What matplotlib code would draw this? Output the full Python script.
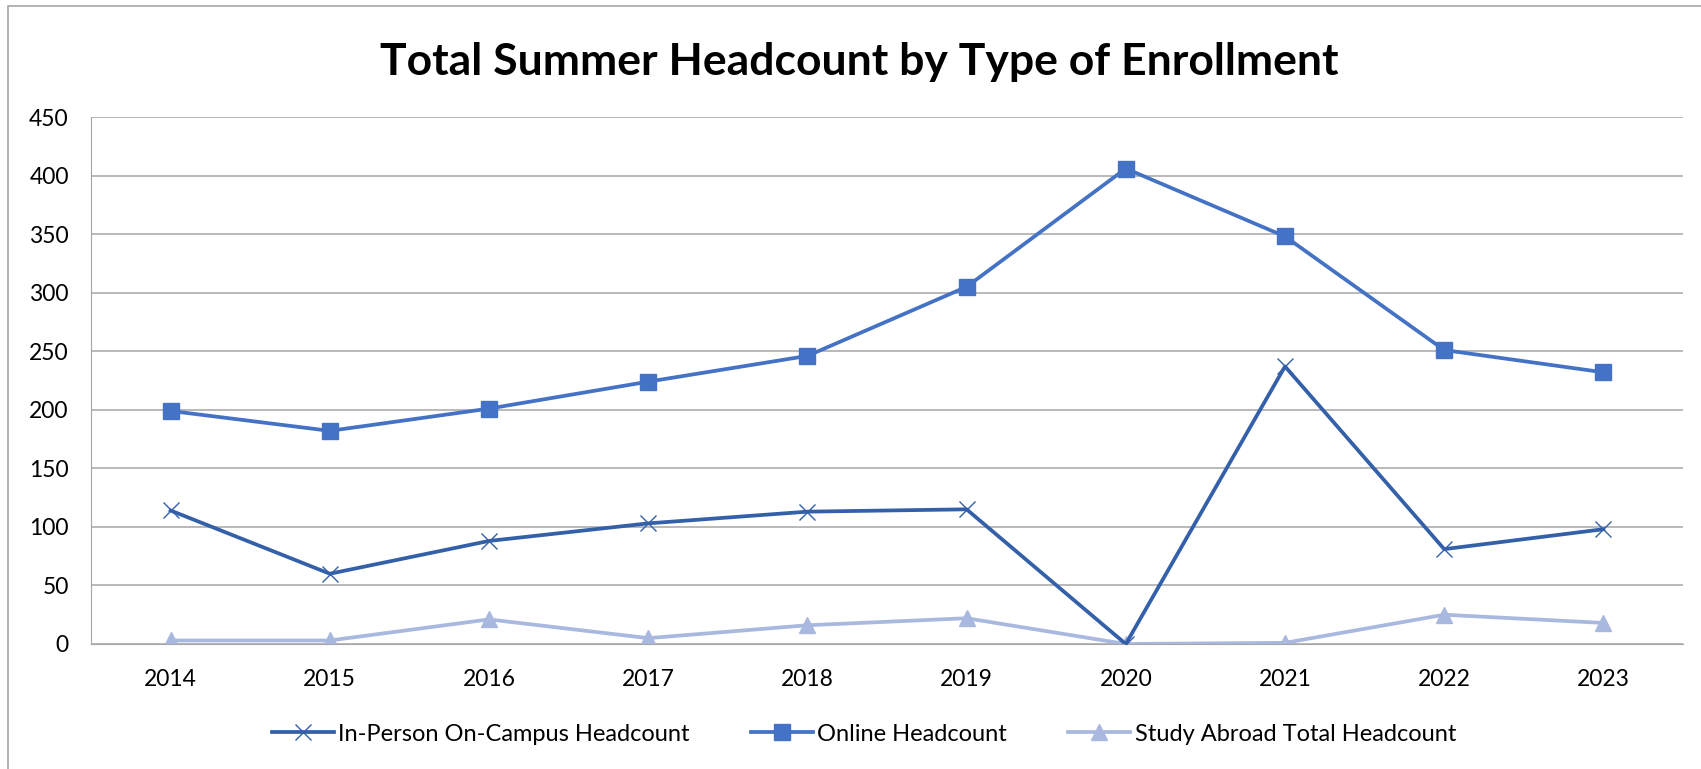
import matplotlib
matplotlib.use("Agg")
import matplotlib.pyplot as plt
from matplotlib.lines import Line2D

plt.rcParams['font.family'] = ['Lato', 'DejaVu Sans']

years = ['2014', '2015', '2016', '2017', '2018', '2019', '2020', '2021', '2022', '2023']
in_person = [114, 60, 88, 103, 113, 115, 0, 237, 81, 98]
online = [199, 182, 201, 224, 246, 305, 406, 348, 251, 232]
study_abroad = [3, 3, 21, 5, 16, 22, 0, 1, 25, 18]
y_ticks = [0, 50, 100, 150, 200, 250, 300, 350, 400, 450]

fig = plt.figure(figsize=(17.01, 7.69), dpi=100)
ax = fig.add_axes([91 / 1701, 1 - 644 / 769, (1683 - 91) / 1701, (644 - 117) / 769])

x = range(len(years))
ax.plot(x, in_person, color='#3360A8', lw=2.7, marker='x', ms=11, mew=1.0,
        label='In-Person On-Campus Headcount', zorder=3)
ax.plot(x, online, color='#4472C4', lw=2.7, marker='s', ms=11,
        label='Online Headcount', zorder=4)
ax.plot(x, study_abroad, color='#A9B8DE', lw=2.7, marker='^', ms=12,
        label='Study Abroad Total Headcount', zorder=2)

ax.set_xlim(-0.5, len(years) - 0.5)
ax.set_ylim(0, 450)
ax.set_xticks(list(x))
ax.set_xticklabels(years)
ax.set_yticks(y_ticks)
ax.yaxis.grid(True, color='#A6A6A6', lw=1.1)
ax.set_axisbelow(True)
for s in ['top', 'right']:
    ax.spines[s].set_visible(False)
ax.spines['left'].set_color('#A6A6A6')
ax.spines['bottom'].set_color('#A6A6A6')
ax.tick_params(length=0, labelsize=16.5, pad=18)
ax.tick_params(axis='y', pad=16)

fig.text(0.505, 0.92, 'Total Summer Headcount by Type of Enrollment',
         ha='center', va='center', fontsize=32, fontweight='bold')

fig.legend(loc='center', bbox_to_anchor=(0.508, 0.0455), ncol=3, frameon=False,
           fontsize=17, columnspacing=2.6, handlelength=2.6, handletextpad=0.2)

# chart border (partially cut off in the original)
fig.add_artist(Line2D([8 / 1701, 8 / 1701, 1.0], [0.0, 1 - 6 / 769, 1 - 6 / 769],
                      transform=fig.transFigure, color='#A6A6A6', lw=1.2))

fig.savefig('out.png', dpi=100)
